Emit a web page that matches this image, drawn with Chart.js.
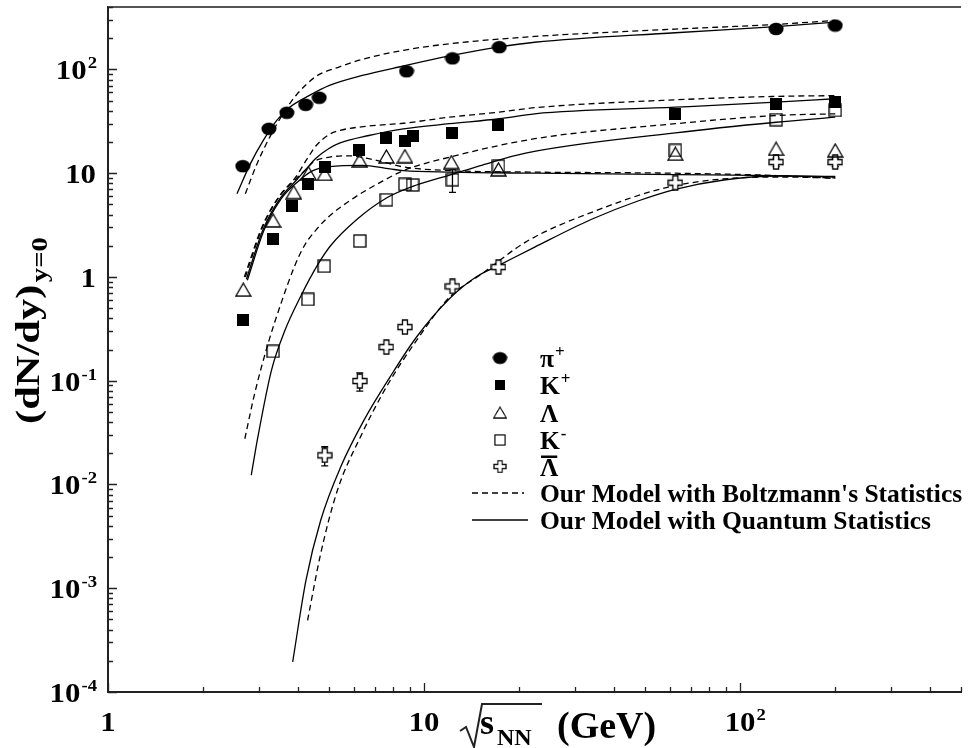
<!DOCTYPE html>
<html>
<head>
<meta charset="utf-8">
<script src="https://cdn.jsdelivr.net/npm/chart.js@4.4.1/dist/chart.umd.min.js"></script>
<style>
  html, body { margin: 0; padding: 0; background: #fff; }
  #grafico { display: block; }
</style>
</head>
<body>
<canvas id="grafico" width="968" height="748"></canvas>
<script>
// dados medidos (sqrt(s_NN) em GeV, dN/dy em y=0)
const piX = [2.67, 3.23, 3.68, 4.22, 4.66, 8.8, 12.3, 17.3, 130, 200];
const piY = [11.7, 26.8, 38.3, 45.7, 53.4, 96, 128, 164, 246, 265];

const kpX = [2.68, 3.33, 3.83, 4.29, 4.87, 6.23, 7.57, 8.71, 9.2, 12.3, 17.2, 62.4, 130, 200];
const kpY = [0.382, 2.34, 4.82, 7.85, 11.45, 16.6, 21.8, 20.3, 22.8, 24.5, 29.3, 37.4, 46.7, 48.9];
const kpErr = [0, 0, 0, 0, 0, 0, 0, 0, 1.5, 0, 0, 0, 0, 0];

const lamX = [2.68, 3.33, 3.87, 4.31, 4.85, 6.26, 7.6, 8.7, 12.2, 17.2, 62.4, 130, 200];
const lamY = [0.755, 3.51, 6.57, 10.0, 9.85, 13.3, 14.5, 14.6, 12.8, 10.9, 15.4, 17.2, 16.6];

const kmX = [3.33, 4.29, 4.83, 6.26, 7.6, 8.7, 9.2, 12.3, 17.2, 62.4, 130, 200];
const kmY = [0.192, 0.608, 1.27, 2.22, 5.55, 7.8, 7.7, 8.65, 11.7, 16.6, 32.8, 40.3];
const kmErr = [0, 0, 0, 0, 0, 0, 0, 2.1, 0, 0, 0, 0];

const lbX = [4.85, 6.26, 7.6, 8.7, 12.3, 17.2, 62.4, 130, 200];
const lbY = [0.0191, 0.0993, 0.211, 0.329, 0.811, 1.245, 8.1, 12.8, 12.8];
const lbErr = [0.004, 0.02, 0, 0, 0, 0, 0, 1.2, 1.2];

// curvas do modelo: Q = estatistica quantica (linha cheia), B = Boltzmann (tracejada)
const piQx = [2.56, 2.82, 3.10, 3.42, 3.76, 4.34, 5.02, 6.38, 8.6, 12.05, 17.3, 22.4, 62.4, 130, 200];
const piQy = [6.35, 12.3, 20.7, 32.3, 43.3, 56.2, 70.1, 87.5, 108, 135, 165, 183, 226, 259, 286];
const piBx = [2.72, 2.96, 3.25, 3.58, 3.95, 4.56, 5.40, 6.38, 8.6, 12.05, 22.4, 62.4, 130, 200];
const piBy = [6.35, 12.3, 22.3, 37.4, 57, 86, 106, 125, 153, 177, 208, 245, 272, 297];

const kpQx = [2.74, 3.1, 3.5, 3.95, 4.24, 4.56, 5.0, 5.4, 6.69, 8.6, 12.05, 17.3, 22.4, 62.4, 130, 200];
const kpQy = [0.95, 2.9, 5.7, 8.6, 11.0, 14.0, 17.3, 19.5, 23.1, 26.8, 30, 33.5, 37.4, 43.3, 48.4, 52.2];
const kpBx = [2.70, 3.08, 3.48, 3.93, 4.25, 4.56, 5.0, 5.4, 6.69, 8.6, 12.05, 17.3, 22.4, 62.4, 130, 200];
const kpBy = [1.0, 3.1, 6.0, 9.2, 13.5, 18.5, 23.5, 25.8, 28.5, 30.3, 34.7, 38.8, 42.8, 51, 55, 56];

const lamQx = [2.76, 3.12, 3.52, 3.97, 4.45, 5.03, 6.37, 7.8, 8.6, 12.05, 22.4, 62.4, 130, 200];
const lamQy = [0.93, 2.85, 5.6, 8.2, 10.6, 11.6, 11.9, 11.0, 10.6, 10.25, 10.0, 9.7, 9.5, 9.2];
const lamBx = [2.72, 3.08, 3.48, 3.93, 4.25, 4.45, 5.03, 5.8, 6.3, 7.45, 8.6, 12.05, 22.4, 62.4, 130, 200];
const lamBy = [1.0, 3.0, 5.9, 8.8, 11.0, 12.8, 14.3, 14.7, 14.3, 12.8, 11.5, 10.6, 10.25, 10.0, 9.5, 8.9];

const kmQx = [2.84, 2.98, 3.29, 3.62, 4.08, 4.6, 5.06, 6.14, 7.63, 9.47, 12.05, 15.3, 20.96, 62.4, 130, 200];
const kmQy = [0.0123, 0.0287, 0.126, 0.30, 0.66, 1.3, 2.0, 3.6, 5.8, 7.7, 9.6, 12.0, 15.6, 24.5, 31, 34.7];
const kmBx = [2.71, 2.91, 3.21, 3.53, 3.89, 4.18, 4.6, 4.94, 5.85, 7.45, 8.6, 12.05, 22.4, 62.4, 130, 200];
const kmBy = [0.0276, 0.075, 0.228, 0.56, 1.26, 2.0, 2.95, 3.7, 5.5, 8.5, 10.6, 14.3, 21.5, 30, 36, 37.4];

const lbQx = [3.84, 4.23, 4.71, 5.45, 6.45, 7.81, 9.47, 12.05, 14.6, 17.3, 22.4, 33.9, 47.5, 62.4, 88.8, 130, 200];
const lbQy = [0.000195, 0.00119, 0.00452, 0.0148, 0.0415, 0.109, 0.264, 0.62, 1.0, 1.3, 1.94, 3.6, 5.4, 7.0, 8.6, 9.4, 9.3];
const lbBx = [4.28, 4.71, 5.32, 6.29, 7.6, 9.47, 12.05, 15.3, 20.96, 33.9, 62.4, 130, 200];
const lbBy = [0.00049, 0.00216, 0.0088, 0.0287, 0.087, 0.245, 0.64, 1.08, 2.17, 4.2, 7.6, 9.2, 9.0];

// rotulos dos eixos
const xTickVals = [1, 10, 100];
const xTickText = [['1', ''], ['10', ''], ['10', '2']];
const yTickVals = [100, 10, 1, 0.1, 0.01, 0.001, 0.0001];
const yTickText = [['10', '2'], ['10', ''], ['1', ''], ['10', '-1'], ['10', '-2'], ['10', '-3'], ['10', '-4']];

const legendNames = [['π', '+'], ['K', '+'], ['Λ', ''], ['K', '-'], ['Λ', 'bar']];
const modelNames = ["Our Model with Boltzmann's Statistics", 'Our Model with Quantum Statistics'];

const SERIF = '"Liberation Serif", "Times New Roman", serif';

function pts(xs, ys) {
    return xs.map((x, i) => ({ x: x, y: ys[i] }));
}

function marcador(w, h, desenha) {
    const c = document.createElement('canvas');
    c.width = w;
    c.height = h;
    const g = c.getContext('2d');
    g.strokeStyle = '#000';
    g.fillStyle = '#000';
    g.lineWidth = 1.3;
    desenha(g);
    return c;
}

const mCirculo = marcador(16, 14, g => {
    g.beginPath();
    g.ellipse(8, 7, 7.5, 6.3, 0, 0, Math.PI * 2);
    g.fill();
});
const mQuadrado = marcador(12, 12, g => g.fillRect(0, 0, 12, 12));
const mTriangulo = marcador(17, 15, g => {
    g.beginPath();
    g.moveTo(8.5, 1);
    g.lineTo(16, 14);
    g.lineTo(1, 14);
    g.closePath();
    g.stroke();
});
const mQuadAberto = marcador(14, 14, g => g.strokeRect(1, 1, 12, 12));
const mCruz = marcador(16, 16, g => {
    const a = 1, b = 5.5, c = 10.5, d = 15;
    g.beginPath();
    g.moveTo(b, a); g.lineTo(c, a); g.lineTo(c, b); g.lineTo(d, b); g.lineTo(d, c);
    g.lineTo(c, c); g.lineTo(c, d); g.lineTo(b, d); g.lineTo(b, c); g.lineTo(a, c);
    g.lineTo(a, b); g.lineTo(b, b);
    g.closePath();
    g.fillStyle = '#fff';
    g.fill();
    g.stroke();
});
const marcadores = [mCirculo, mQuadrado, mTriangulo, mQuadAberto, mCruz];

function serieDados(label, xs, ys, estilo) {
    return {
        label: label,
        data: pts(xs, ys),
        showLine: false,
        pointStyle: estilo,
        pointRadius: 6,
        pointHoverRadius: 6
    };
}

function curva(label, xs, ys, tracejada) {
    return {
        label: label,
        data: pts(xs, ys),
        showLine: true,
        borderColor: '#000',
        borderWidth: 1.3,
        borderDash: tracejada ? [6, 4] : [],
        pointRadius: 0,
        cubicInterpolationMode: 'monotone',
        fill: false
    };
}

function barrasErro(chart, xs, ys, errs) {
    const ctx = chart.ctx, sx = chart.scales.x, sy = chart.scales.y;
    ctx.save();
    ctx.strokeStyle = '#000';
    ctx.lineWidth = 1.3;
    errs.forEach((e, i) => {
        if (!e) return;
        const px = sx.getPixelForValue(xs[i]);
        const p1 = sy.getPixelForValue(ys[i] + e);
        const p2 = sy.getPixelForValue(ys[i] - e);
        ctx.beginPath();
        ctx.moveTo(px, p1); ctx.lineTo(px, p2);
        ctx.moveTo(px - 3.5, p1); ctx.lineTo(px + 3.5, p1);
        ctx.moveTo(px - 3.5, p2); ctx.lineTo(px + 3.5, p2);
        ctx.stroke();
    });
    ctx.restore();
}

// texto tipo 10^n, esticado na horizontal (sx) como no original
function textoPotencia(ctx, base, exp, x, y, align, tam, sx) {
    ctx.font = 'bold ' + tam + 'px ' + SERIF;
    const wb = ctx.measureText(base).width * sx;
    ctx.font = 'bold ' + Math.round(tam * 0.62) + 'px ' + SERIF;
    const we = exp ? ctx.measureText(exp).width * sx : 0;
    let x0 = x;
    if (align === 'right') x0 = x - wb - we - 1;
    if (align === 'center') x0 = x - wb / 2;
    ctx.save();
    ctx.translate(x0, y);
    ctx.scale(sx, 1);
    ctx.textAlign = 'left';
    ctx.textBaseline = 'alphabetic';
    ctx.font = 'bold ' + tam + 'px ' + SERIF;
    ctx.fillText(base, 0, 0);
    if (exp) {
        ctx.font = 'bold ' + Math.round(tam * 0.62) + 'px ' + SERIF;
        ctx.fillText(exp, wb / sx + 1, -tam * 0.4);
    }
    ctx.restore();
}

const decoracao = {
    id: 'decoracao',
    beforeDatasetsDraw: (chart) => {
        barrasErro(chart, kpX, kpY, kpErr);
        barrasErro(chart, kmX, kmY, kmErr);
        barrasErro(chart, lbX, lbY, lbErr);
    },
    afterDraw: (chart) => {
        const { ctx, chartArea: { left, right, top, bottom }, scales: { x, y } } = chart;
        ctx.save();
        ctx.fillStyle = '#000';

        // linha de cima
        ctx.lineWidth = 2;
        ctx.strokeStyle = '#555';
        ctx.beginPath();
        ctx.moveTo(left, top);
        ctx.lineTo(right, top);
        ctx.stroke();

        // marcas dos eixos (para dentro)
        ctx.strokeStyle = '#222';
        ctx.lineWidth = 1.3;
        ctx.beginPath();
        for (let d = -4; d <= 2; d++) {
            for (let m = 1; m <= 9; m++) {
                const v = m * Math.pow(10, d);
                if (v > 400) break;
                const py = Math.round(y.getPixelForValue(v)) + 0.5;
                ctx.moveTo(left, py);
                ctx.lineTo(left + (m === 1 ? 9 : 5), py);
            }
        }
        for (let d = 0; d <= 2; d++) {
            for (let m = 1; m <= 9; m++) {
                const v = m * Math.pow(10, d);
                if (v > 500) break;
                const px = Math.round(x.getPixelForValue(v)) + 0.5;
                ctx.moveTo(px, bottom);
                ctx.lineTo(px, bottom - (m === 1 ? 9 : 5));
            }
        }
        ctx.stroke();

        // rotulos
        xTickVals.forEach((v, i) => {
            textoPotencia(ctx, xTickText[i][0], xTickText[i][1], x.getPixelForValue(v), 731, 'center', 28, 1.1);
        });
        yTickVals.forEach((v, i) => {
            textoPotencia(ctx, yTickText[i][0], yTickText[i][1], 97, y.getPixelForValue(v) + 10, 'right', 28, 1.1);
        });

        // titulo do eixo y
        ctx.save();
        ctx.translate(39, 424);
        ctx.rotate(-Math.PI / 2);
        ctx.scale(1.25, 1);
        ctx.textAlign = 'left';
        ctx.textBaseline = 'alphabetic';
        ctx.font = 'bold 34px ' + SERIF;
        ctx.fillText('(dN/dy)', 0, 0);
        const wt = ctx.measureText('(dN/dy)').width;
        ctx.font = 'bold 23px ' + SERIF;
        ctx.fillText('y=0', wt + 2, 8);
        ctx.restore();

        // titulo do eixo x: raiz de s_NN (GeV)
        ctx.lineWidth = 2;
        ctx.beginPath();
        ctx.moveTo(460, 731);
        ctx.lineTo(466, 727);
        ctx.lineTo(474, 747);
        ctx.lineTo(482, 704);
        ctx.lineTo(542, 704);
        ctx.stroke();
        ctx.font = 'bold 36px ' + SERIF;
        ctx.fillText('s', 480, 734);
        ctx.font = 'bold 24px ' + SERIF;
        ctx.fillText('NN', 497, 745);
        ctx.font = 'bold 38px ' + SERIF;
        ctx.fillText('(GeV)', 557, 738);

        // legenda
        const linhas = [358, 385, 412.5, 440, 466.5];
        marcadores.forEach((mk, i) => {
            const s = i === 0 ? 0.95 : 0.85;
            const w = mk.width * s, h = mk.height * s;
            ctx.drawImage(mk, 500 - w / 2, linhas[i] - h / 2, w, h);
            const nome = legendNames[i];
            ctx.font = 'bold 25.5px ' + SERIF;
            ctx.textAlign = 'left';
            ctx.fillText(nome[0], 540, linhas[i] + 9);
            const wn = ctx.measureText(nome[0]).width;
            if (nome[1] === 'bar') {
                ctx.fillRect(541, linhas[i] - 11, wn - 2, 2.5);
            } else if (nome[1]) {
                ctx.font = 'bold 17px ' + SERIF;
                ctx.fillText(nome[1], 540 + wn + 1, linhas[i] - 1);
            }
        });
        ctx.lineWidth = 1.3;
        ctx.strokeStyle = '#000';
        ctx.setLineDash([6, 4]);
        ctx.beginPath();
        ctx.moveTo(472, 493);
        ctx.lineTo(524, 493);
        ctx.stroke();
        ctx.setLineDash([]);
        ctx.beginPath();
        ctx.moveTo(472, 520);
        ctx.lineTo(528, 520);
        ctx.stroke();
        ctx.font = 'bold 25.5px ' + SERIF;
        ctx.fillText(modelNames[0], 540, 502);
        ctx.fillText(modelNames[1], 540, 529);

        ctx.restore();
    }
};

const config = {
    type: 'scatter',
    data: {
        datasets: [
            serieDados('π+', piX, piY, mCirculo),
            serieDados('K+', kpX, kpY, mQuadrado),
            serieDados('Λ', lamX, lamY, mTriangulo),
            serieDados('K-', kmX, kmY, mQuadAberto),
            serieDados('anti-Λ', lbX, lbY, mCruz),
            curva('π+ B', piBx, piBy, true),
            curva('π+ Q', piQx, piQy, false),
            curva('K+ B', kpBx, kpBy, true),
            curva('K+ Q', kpQx, kpQy, false),
            curva('Λ B', lamBx, lamBy, true),
            curva('Λ Q', lamQx, lamQy, false),
            curva('K- B', kmBx, kmBy, true),
            curva('K- Q', kmQx, kmQy, false),
            curva('anti-Λ B', lbBx, lbBy, true),
            curva('anti-Λ Q', lbQx, lbQy, false)
        ]
    },
    options: {
        responsive: false,
        animation: false,
        devicePixelRatio: 1,
        layout: { padding: { top: 7, right: 0, left: 0, bottom: 0 } },
        plugins: {
            legend: { display: false },
            tooltip: { enabled: false }
        },
        scales: {
            x: {
                type: 'logarithmic',
                min: 1,
                max: 500,
                grid: { display: false },
                border: { display: true, color: '#222', width: 2 },
                ticks: { display: false },
                afterFit: (s) => { s.height = 56; }
            },
            y: {
                type: 'logarithmic',
                min: 0.0001,
                max: 400,
                grid: { display: false },
                border: { display: true, color: '#222', width: 2 },
                ticks: { display: false },
                afterFit: (s) => { s.width = 108; }
            }
        }
    },
    plugins: [decoracao]
};

const grafico = new Chart(document.getElementById('grafico'), config);
</script>
</body>
</html>
